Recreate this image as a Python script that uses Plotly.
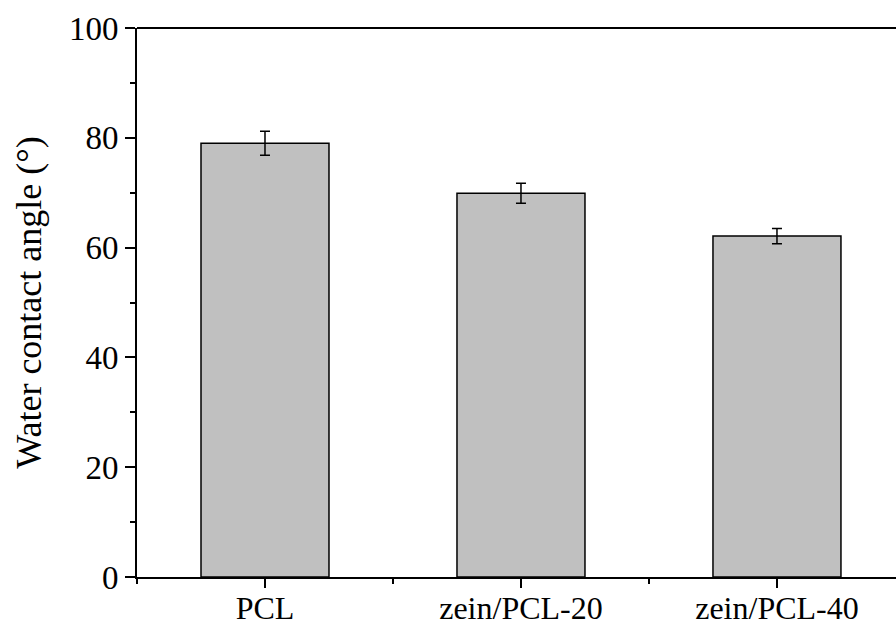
import plotly.graph_objects as go

# Water contact angle of the membranes (mean ± SD)
categories = ["PCL", "zein/PCL-20", "zein/PCL-40"]
contact_angle = [79.0, 69.9, 62.1]
contact_angle_sd = [2.2, 1.8, 1.4]
y_ticks = [0, 20, 40, 60, 80, 100]

x_pos = list(range(len(categories)))
serif = "Liberation Serif, Times New Roman, serif"

fig = go.Figure()
fig.add_trace(go.Bar(
    x=x_pos,
    y=contact_angle,
    width=0.5,
    marker=dict(color="#c0c0c0", line=dict(color="black", width=1.5)),
    error_y=dict(type="data", array=contact_angle_sd, visible=True,
                 color="black", thickness=1.5, width=5),
    showlegend=False,
))

fig.update_layout(
    width=896,
    height=630,
    margin=dict(l=137, r=0, t=28, b=53),
    plot_bgcolor="white",
    paper_bgcolor="white",
    font=dict(family=serif, color="black"),
    bargap=0.5,
    xaxis=dict(
        range=[-0.5, 2.465],
        automargin=False,
        tickmode="array",
        tickvals=x_pos,
        ticktext=categories,
        ticks="outside",
        ticklen=9,
        tickwidth=1.5,
        tickcolor="black",
        tickfont=dict(size=32, family=serif),
        ticklabelstandoff=-7,
        showline=True,
        linecolor="black",
        linewidth=2,
        showgrid=False,
        zeroline=False,
        minor=dict(tickmode="array", tickvals=[-0.5, 0.5, 1.5],
                   ticks="outside", ticklen=5, tickwidth=1.5, tickcolor="black"),
    ),
    yaxis=dict(
        range=[0, 100],
        automargin=False,
        tickmode="array",
        tickvals=y_ticks,
        ticks="outside",
        ticklen=10,
        tickwidth=1.5,
        tickcolor="black",
        tickfont=dict(size=33, family=serif),
        showline=True,
        linecolor="black",
        linewidth=2,
        showgrid=False,
        zeroline=False,
        minor=dict(dtick=10, tick0=0, ticks="outside", ticklen=5,
                   tickwidth=1.5, tickcolor="black"),
        title=dict(text="Water contact angle (°)", font=dict(size=36, family=serif),
                   standoff=16),
    ),
    shapes=[dict(type="line", xref="paper", yref="paper", x0=0, x1=1, y0=1, y1=1,
                 line=dict(color="black", width=2))],
)

fig.write_html("out.html")
